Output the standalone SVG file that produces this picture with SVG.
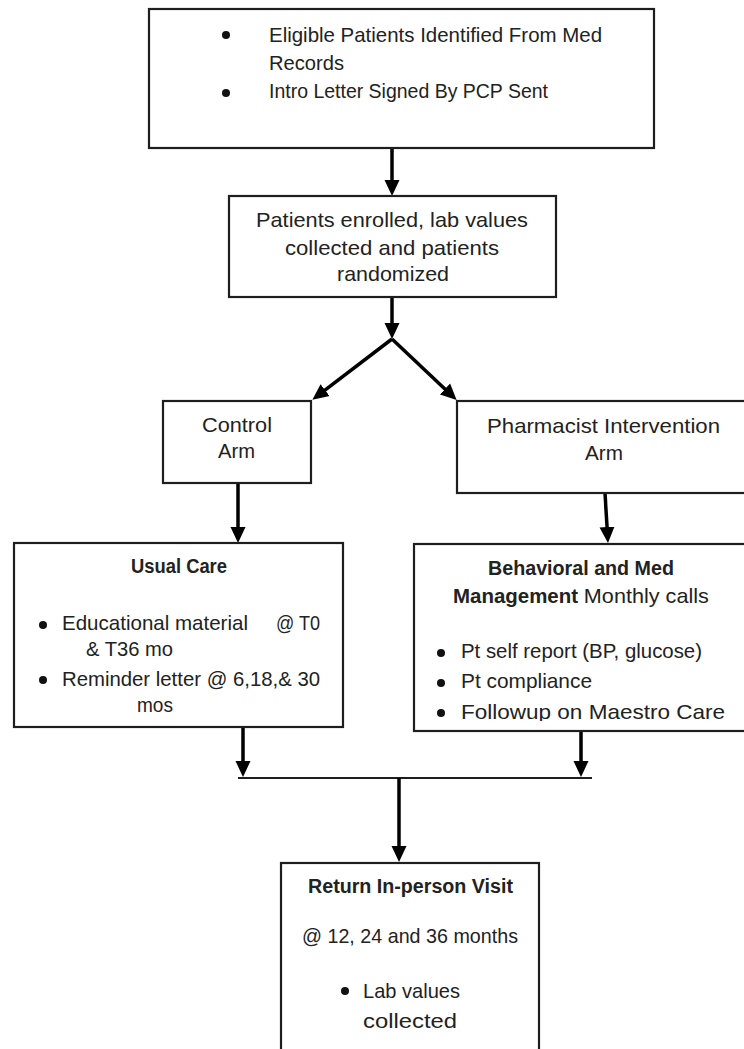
<svg xmlns="http://www.w3.org/2000/svg" width="744" height="1049" viewBox="0 0 744 1049">
  <style>
    .box { fill: #ffffff; stroke: #1e1e1e; stroke-width: 2.2; }
    .t { font-family: "Liberation Sans", Arial, sans-serif; font-size: 21px; fill: #222222; }
    .b { font-weight: bold; font-size: 20px; }
    .c { text-anchor: middle; }
    .dot { fill: #111111; }
    .conn { stroke: #000000; stroke-width: 3.5; fill: none; }
    .bar { stroke: #1e1e1e; stroke-width: 2.2; fill: none; }
  </style>
  <defs>
    <marker id="ah" markerUnits="userSpaceOnUse" markerWidth="17" markerHeight="16" refX="1" refY="7.5" orient="auto" viewBox="0 0 17 15">
      <path d="M0,0 L16,7.5 L0,15 z" fill="#000000"/>
    </marker>
    <clipPath id="clipFollow">
      <rect x="414" y="690" width="336" height="31"/>
    </clipPath>
  </defs>
  <rect x="0" y="0" width="744" height="1049" fill="#ffffff"/>

  <g id="connectors">
    <line class="conn" x1="392" y1="148" x2="392" y2="181" marker-end="url(#ah)"/>
    <line class="conn" x1="392" y1="297" x2="392" y2="324" marker-end="url(#ah)"/>
    <line class="conn" x1="392" y1="339" x2="324.3" y2="390.7" marker-end="url(#ah)"/>
    <line class="conn" x1="392" y1="339" x2="445.7" y2="389.7" marker-end="url(#ah)"/>
    <line class="conn" x1="238" y1="483" x2="238" y2="528" marker-end="url(#ah)"/>
    <line class="conn" x1="605" y1="493" x2="607.1" y2="528" marker-end="url(#ah)"/>
    <line class="conn" x1="243" y1="727" x2="243" y2="762" marker-end="url(#ah)"/>
    <line class="conn" x1="581" y1="731" x2="581" y2="762" marker-end="url(#ah)"/>
    <line class="bar" x1="238" y1="778" x2="592" y2="778"/>
    <line class="conn" x1="399" y1="778" x2="399" y2="847" marker-end="url(#ah)"/>
  </g>

  <g id="node-eligible">
    <rect class="box" x="149" y="9" width="505" height="139"/>
    <circle class="dot" cx="226" cy="35" r="4"/>
    <text class="t" x="269" y="42" textLength="333" lengthAdjust="spacingAndGlyphs">Eligible Patients Identified From Med</text>
    <text class="t" x="269" y="70" textLength="75" lengthAdjust="spacingAndGlyphs">Records</text>
    <circle class="dot" cx="226" cy="93" r="4"/>
    <text class="t" x="269" y="98" textLength="279" lengthAdjust="spacingAndGlyphs">Intro Letter Signed By PCP Sent</text>
  </g>

  <g id="node-enrolled">
    <rect class="box" x="229" y="196" width="327" height="101"/>
    <text class="t c" x="392" y="227" textLength="272" lengthAdjust="spacingAndGlyphs">Patients enrolled, lab values</text>
    <text class="t c" x="392" y="255" textLength="214" lengthAdjust="spacingAndGlyphs">collected and patients</text>
    <text class="t c" x="393" y="281" textLength="112" lengthAdjust="spacingAndGlyphs">randomized</text>
  </g>

  <g id="node-control">
    <rect class="box" x="163" y="401" width="148" height="82"/>
    <text class="t c" x="237" y="432" textLength="70" lengthAdjust="spacingAndGlyphs">Control</text>
    <text class="t c" x="236.5" y="458" textLength="37" lengthAdjust="spacingAndGlyphs">Arm</text>
  </g>

  <g id="node-pharmacist">
    <rect class="box" x="457" y="401" width="295" height="92"/>
    <text class="t c" x="603.5" y="433" textLength="233" lengthAdjust="spacingAndGlyphs">Pharmacist Intervention</text>
    <text class="t c" x="604" y="460" textLength="38" lengthAdjust="spacingAndGlyphs">Arm</text>
  </g>

  <g id="node-usual-care">
    <rect class="box" x="14" y="543" width="329" height="184"/>
    <text class="t b c" x="179" y="573" textLength="96" lengthAdjust="spacingAndGlyphs">Usual Care</text>
    <circle class="dot" cx="43" cy="625" r="4"/>
    <text class="t" x="62" y="630" textLength="186" lengthAdjust="spacingAndGlyphs">Educational material</text>
    <text class="t" x="276" y="630" textLength="44" lengthAdjust="spacingAndGlyphs">@ T0</text>
    <text class="t" x="86" y="656" textLength="87" lengthAdjust="spacingAndGlyphs">&amp; T36 mo</text>
    <circle class="dot" cx="43" cy="680" r="4"/>
    <text class="t" x="62" y="686" textLength="258" lengthAdjust="spacingAndGlyphs">Reminder letter @ 6,18,&amp; 30</text>
    <text class="t" x="137" y="712" textLength="36" lengthAdjust="spacingAndGlyphs">mos</text>
  </g>

  <g id="node-behavioral">
    <rect class="box" x="414" y="544" width="338" height="187"/>
    <text class="t b c" x="581" y="575" textLength="186" lengthAdjust="spacingAndGlyphs">Behavioral and Med</text>
    <text class="t" x="453" y="603"><tspan class="b" textLength="125" lengthAdjust="spacingAndGlyphs">Management</tspan><tspan> </tspan><tspan textLength="125" lengthAdjust="spacingAndGlyphs">Monthly calls</tspan></text>
    <circle class="dot" cx="441" cy="653" r="4"/>
    <text class="t" x="461" y="658" textLength="241" lengthAdjust="spacingAndGlyphs">Pt self report (BP, glucose)</text>
    <circle class="dot" cx="441" cy="683" r="4"/>
    <text class="t" x="461" y="688" textLength="131" lengthAdjust="spacingAndGlyphs">Pt compliance</text>
    <circle class="dot" cx="441" cy="713" r="4"/>
    <text class="t" x="461" y="719" textLength="264" lengthAdjust="spacingAndGlyphs" clip-path="url(#clipFollow)">Followup on Maestro Care</text>
  </g>

  <g id="node-return-visit">
    <rect class="box" x="281" y="863" width="258" height="200"/>
    <text class="t b c" x="410.5" y="893" textLength="205" lengthAdjust="spacingAndGlyphs">Return In-person Visit</text>
    <text class="t c" x="410" y="943" textLength="216" lengthAdjust="spacingAndGlyphs">@ 12, 24 and 36 months</text>
    <circle class="dot" cx="345" cy="991" r="4"/>
    <text class="t" x="363" y="998" textLength="97" lengthAdjust="spacingAndGlyphs">Lab values</text>
    <text class="t" x="363" y="1028" textLength="94" lengthAdjust="spacingAndGlyphs">collected</text>
  </g>
</svg>
